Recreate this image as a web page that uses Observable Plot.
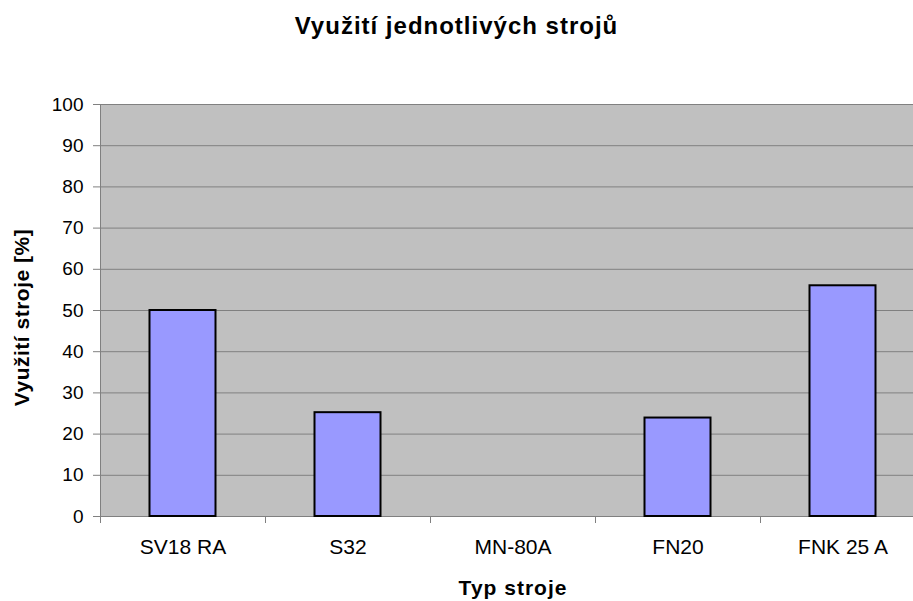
<!DOCTYPE html>
<html>
<head>
<meta charset="utf-8">
<script src="https://cdn.jsdelivr.net/npm/d3@7"></script>
<script src="https://cdn.jsdelivr.net/npm/@observablehq/plot@0.6"></script>
<style>
  html, body { margin: 0; padding: 0; background: white; overflow: hidden; width: 913px; height: 601px; }
  #title { width: 913px; height: 60px; line-height: 52px; text-align: center; font-family: "Liberation Sans", Arial, sans-serif; font-weight: bold; font-size: 24px; letter-spacing: 1px; color: black; }
  #chart svg { max-width: none; overflow: visible; display: block; }
</style>
</head>
<body>
<div id="title">Využití jednotlivých strojů</div>
<div id="chart"></div>
<script>
const categories = ["SV18 RA", "S32", "MN-80A", "FN20", "FNK 25 A"];
const values = [50, 25.2, 0, 23.9, 56.0];
const yTicks = [0, 10, 20, 30, 40, 50, 60, 70, 80, 90, 100];
const titleY = "Využití stroje [%]";
const titleX = "Typ stroje";

const data = categories.map((c, i) => ({c, i, v: values[i]}));
const boundaries = d3.range(categories.length + 1).map(i => i - 0.5);
const font = "'Liberation Sans', Arial, sans-serif";

const chart = Plot.plot({
  width: 925,
  height: 541,
  marginTop: 44,
  marginBottom: 85,
  marginLeft: 100,
  marginRight: 0,
  style: {fontFamily: font, fontSize: "19px", background: "white", overflow: "visible"},
  x: {type: "linear", domain: [-0.5, categories.length - 0.5]},
  y: {domain: [0, 100]},
  marks: [
    Plot.frame({fill: "#c0c0c0", stroke: "none"}),
    Plot.gridY(yTicks, {stroke: "#808080", strokeOpacity: 1, strokeWidth: 1}),
    Plot.ruleX([-0.5], {stroke: "#808080", strokeWidth: 1}),
    Plot.ruleY([0], {stroke: "#808080", strokeWidth: 1}),
    Plot.rectY(data.filter(d => d.v > 0), {
      x1: d => d.i - 0.2, x2: d => d.i + 0.2, y1: 0, y2: "v",
      fill: "#9999ff", stroke: "black", strokeWidth: 2
    }),
    Plot.axisY({ticks: yTicks, tickSize: 7, tickPadding: 10, stroke: "#808080", fill: "black", label: null, fontSize: 19}),
    Plot.axisX({ticks: boundaries, tickFormat: () => "", tickSize: 7, stroke: "#808080", label: null}),
    Plot.axisX({ticks: d3.range(categories.length), tickFormat: i => categories[i], tickSize: 0, tickPadding: 23, fill: "black", label: null, fontSize: 21}),
    Plot.text([titleY], {frameAnchor: "left", textAnchor: "middle", text: d => d, rotate: -90, dx: -78, dy: 7, fontWeight: "bold", fontSize: 21, fill: "black"}),
    Plot.text([titleX], {frameAnchor: "bottom", text: d => d, dy: 78, fontWeight: "bold", fontSize: 21, fill: "black"})
  ]
});
chart.querySelectorAll("g[aria-label='text'] text").forEach(t => {
  const txt = t.textContent;
  t.setAttribute("letter-spacing", txt === titleY ? "0.5px" : "1px");
});
document.getElementById("chart").appendChild(chart);
</script>
</body>
</html>
